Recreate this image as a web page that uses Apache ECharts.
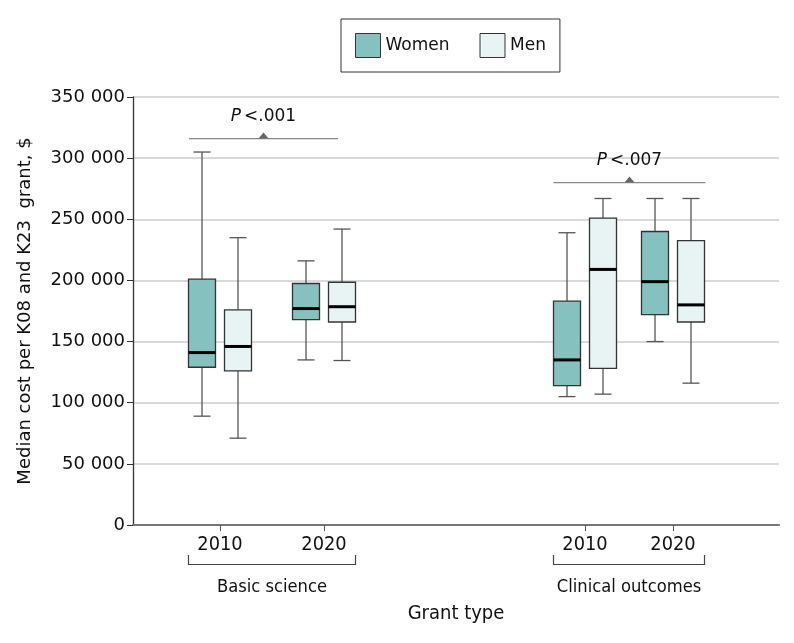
<!DOCTYPE html>
<html>
<head>
<meta charset="utf-8">
<script src="https://cdn.jsdelivr.net/npm/echarts@6/dist/echarts.min.js"></script>
<style>html,body{margin:0;padding:0;background:#fff}#c{width:794px;height:643px}</style>
</head>
<body>
<div id="c"></div>
<script>
// ---------------- data ----------------
const groups = ['Basic science', 'Clinical outcomes'];
const years = ['2010', '2020'];
const seriesNames = ['Women', 'Men'];
// [min, Q1, median, Q3, max] for Basic 2010, Basic 2020, Clinical 2010, Clinical 2020
const womenStats = [
  [89000, 129000, 141000, 201000, 305000],
  [135000, 168000, 177000, 197500, 216000],
  [105000, 114000, 135000, 183000, 239000],
  [150000, 172000, 199000, 240000, 267000]
];
const menStats = [
  [71000, 126000, 146000, 176000, 235000],
  [134500, 166000, 178500, 198500, 242000],
  [107000, 128000, 209000, 251000, 267000],
  [116000, 166000, 180000, 232500, 267000]
];
const pValues = ['.001', '.007'];
const pLevels = [316000, 280000];
const yTickValues = [0, 50000, 100000, 150000, 200000, 250000, 300000, 350000];
const yTickLabels = ['0', '50 000', '100 000', '150 000', '200 000', '250 000', '300 000', '350 000'];

// ---------------- layout ----------------
const X_MAX = 646;
const slotX = [87, 191, 452, 540];   // x positions of the year slots (axis units)
const BOX_OFFSET = 18, BOX_HALF = 13.5, CAP_HALF = 8.5;
const pLineSpan = [[-31, 14], [-31.5, 32.5]];

function hasFont(name) {
  const ctx = document.createElement('canvas').getContext('2d');
  const s = 'Basic science 2010 Wm';
  ctx.font = '40px monospace'; const a = ctx.measureText(s).width;
  ctx.font = '40px "' + name + '", monospace'; const b = ctx.measureText(s).width;
  return Math.abs(a - b) > 0.5;
}
let XF = 'Roboto', yearSize = 20, groupSize = 19, nameSize = 21;
if (hasFont('Liberation Sans Narrow')) { XF = 'Liberation Sans Narrow'; yearSize = 23; groupSize = 22.4; nameSize = 23; }
else if (hasFont('DejaVu Sans Condensed')) { XF = 'DejaVu Sans Condensed'; yearSize = 19.8; groupSize = 18.2; nameSize = 20; }
const YF = 'DejaVu Sans';
const colors = { Women: '#84c1bf', Men: '#e8f3f4' };

function boxRender(sign) {
  return function (params, api) {
    const x = api.value(0);
    const c = v => api.coord([x, v]);
    const cx = c(0)[0] + sign * BOX_OFFSET;
    const yMin = c(api.value(1))[1], yQ1 = c(api.value(2))[1], yMed = c(api.value(3))[1],
          yQ3 = c(api.value(4))[1], yMax = c(api.value(5))[1];
    const ws = { stroke: '#555', lineWidth: 1.3 };
    return {
      type: 'group', children: [
        { type: 'line', shape: { x1: cx, y1: yMax, x2: cx, y2: yQ3 }, style: ws },
        { type: 'line', shape: { x1: cx, y1: yQ1, x2: cx, y2: yMin }, style: ws },
        { type: 'line', shape: { x1: cx - CAP_HALF, y1: yMax, x2: cx + CAP_HALF, y2: yMax }, style: ws },
        { type: 'line', shape: { x1: cx - CAP_HALF, y1: yMin, x2: cx + CAP_HALF, y2: yMin }, style: ws },
        { type: 'rect', shape: { x: cx - BOX_HALF, y: yQ3, width: 2 * BOX_HALF, height: yQ1 - yQ3 },
          style: { fill: api.visual('color'), stroke: '#333', lineWidth: 1.3 } },
        { type: 'line', shape: { x1: cx - BOX_HALF, y1: yMed, x2: cx + BOX_HALF, y2: yMed }, style: { stroke: '#000', lineWidth: 3 } }
      ]
    };
  };
}

const chart = echarts.init(document.getElementById('c'), null, { renderer: 'canvas' });
chart.setOption({
  animation: false,
  backgroundColor: '#fff',
  grid: { left: 133, right: 15, top: 97, bottom: 118, containLabel: false },
  legend: {
    left: 341, top: 19, padding: [14, 14, 14, 14], itemWidth: 25, itemHeight: 24, itemGap: 30,
    borderColor: '#333', borderWidth: 1, icon: 'rect',
    textStyle: { fontFamily: YF, fontSize: 17, color: '#111' },
    itemStyle: { borderColor: '#333', borderWidth: 1 },
    data: seriesNames
  },
  xAxis: {
    type: 'value', min: 0, max: X_MAX,
    name: 'Grant type', nameLocation: 'middle', nameGap: 79,
    nameTextStyle: { fontFamily: XF, fontSize: nameSize, color: '#111' },
    axisLine: { show: true, onZero: true, lineStyle: { color: '#777', width: 2 } },
    axisTick: { show: true, customValues: slotX, length: 6, lineStyle: { color: '#555', width: 1 } },
    axisLabel: {
      customValues: slotX, margin: 10,
      formatter: v => years[slotX.indexOf(v) % 2],
      fontFamily: XF, fontSize: yearSize, color: '#111'
    },
    splitLine: { show: false }
  },
  yAxis: {
    type: 'value', min: 0, max: 350000, interval: 50000,
    name: 'Median cost per K08 and K23  grant, $', nameLocation: 'middle', nameGap: 99,
    nameTextStyle: { fontFamily: YF, fontSize: 18, color: '#111' },
    axisLine: { show: true, lineStyle: { color: '#333', width: 1.3 } },
    axisTick: { show: true, length: 6, lineStyle: { color: '#333' } },
    axisLabel: {
      margin: 8, fontFamily: YF, fontSize: 18, color: '#111',
      formatter: v => yTickLabels[yTickValues.indexOf(v)]
    },
    splitLine: { show: true, lineStyle: { color: '#d9d9d9', width: 2 } }
  },
  series: [
    {
      name: 'Women', type: 'custom', itemStyle: { color: colors.Women, borderColor: '#333', borderWidth: 1 },
      encode: { x: 0, y: [1, 2, 3, 4, 5] }, renderItem: boxRender(-1), z: 5,
      data: womenStats.map((s, i) => [slotX[i]].concat(s))
    },
    {
      name: 'Men', type: 'custom', itemStyle: { color: colors.Men, borderColor: '#333', borderWidth: 1 },
      encode: { x: 0, y: [1, 2, 3, 4, 5] }, renderItem: boxRender(1), z: 5,
      data: menStats.map((s, i) => [slotX[i]].concat(s))
    },
    {
      name: 'pvalues', type: 'custom', silent: true, z: 6,
      encode: { x: [0, 1], y: 2 },
      data: pLevels.map((lv, i) => [slotX[2 * i], slotX[2 * i + 1], lv]),
      renderItem: function (params, api) {
        const i = params.dataIndex;
        const p1 = api.coord([api.value(0), api.value(2)]);
        const p2 = api.coord([api.value(1), api.value(2)]);
        const xa = p1[0] + pLineSpan[i][0];
        const xb = p2[0] + pLineSpan[i][1];
        const y = p1[1];
        const mid = (xa + xb) / 2;
        return {
          type: 'group', children: [
            { type: 'line', shape: { x1: xa, y1: y, x2: xb, y2: y }, style: { stroke: '#888', lineWidth: 1.3 } },
            { type: 'polygon', shape: { points: [[mid - 5, y], [mid + 5, y], [mid, y - 6]] }, style: { fill: '#666' } },
            { type: 'text', x: mid, y: y - 22, style: {
                text: '{i|P}{n|<' + pValues[i] + '}', align: 'center', verticalAlign: 'middle',
                rich: { i: { fontFamily: YF, fontStyle: 'italic', fontSize: 17, fill: '#111', padding: [0, 3, 0, 0] },
                        n: { fontFamily: YF, fontSize: 17, fill: '#111' } } } }
          ]
        };
      }
    },
    {
      name: 'groups', type: 'custom', silent: true, z: 6,
      encode: { x: [0, 1], y: 2 },
      data: groups.map((g, i) => [slotX[2 * i], slotX[2 * i + 1], 0]),
      renderItem: function (params, api) {
        const i = params.dataIndex;
        const a = api.coord([api.value(0), 0]);
        const b = api.coord([api.value(1), 0]);
        const xa = a[0] - BOX_OFFSET - BOX_HALF, xb = b[0] + BOX_OFFSET + BOX_HALF;
        const y0 = a[1];
        const st = { stroke: '#444', lineWidth: 1.2 };
        return {
          type: 'group', children: [
            { type: 'line', shape: { x1: xa, y1: y0 + 30, x2: xa, y2: y0 + 40 }, style: st },
            { type: 'line', shape: { x1: xb, y1: y0 + 30, x2: xb, y2: y0 + 40 }, style: st },
            { type: 'line', shape: { x1: xa, y1: y0 + 39.5, x2: xb, y2: y0 + 39.5 }, style: st },
            { type: 'text', x: (a[0] + b[0]) / 2, y: y0 + 62, style: {
                text: groups[i], align: 'center', verticalAlign: 'middle',
                fontFamily: XF, fontSize: groupSize, fill: '#111' } }
          ]
        };
      }
    }
  ]
});
</script>
</body>
</html>
